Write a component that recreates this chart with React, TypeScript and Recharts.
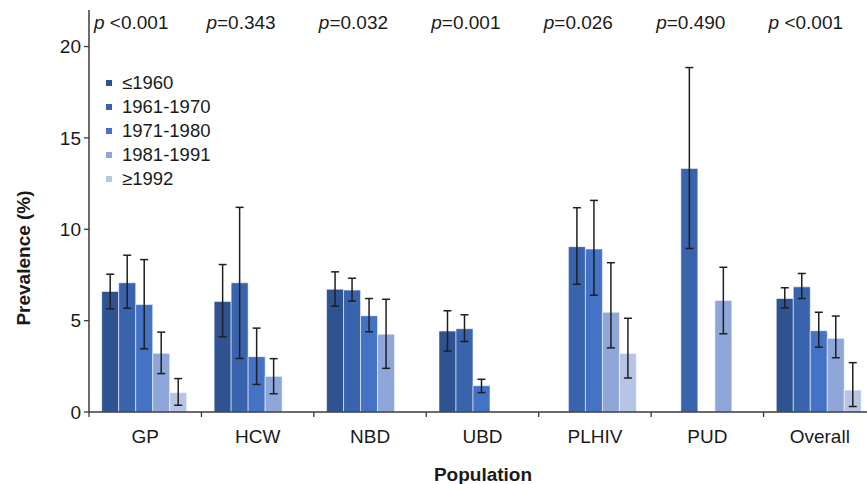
import React from 'react';
import { BarChart, Bar, XAxis, YAxis, ErrorBar, Legend } from 'recharts';

const categories = ['GP', 'HCW', 'NBD', 'UBD', 'PLHIV', 'PUD', 'Overall'];
const pValues = [' <0.001', '=0.343', '=0.032', '=0.001', '=0.026', '=0.490', ' <0.001'];
const seriesNames = ['≤1960', '1961-1970', '1971-1980', '1981-1991', '≥1992'];
const colors = ['#2F5291', '#3A63AD', '#4472C4', '#8FA6D8', '#B7C4E6'];
const yTicks = [0, 5, 10, 15, 20];

const v1960 = [6.6, 6.05, 6.72, 4.43, null, null, 6.21];
const lo1960 = [5.65, 4.12, 5.79, 3.33, null, null, 5.7];
const hi1960 = [7.54, 8.07, 7.67, 5.54, null, null, 6.8];

const v1961 = [7.07, 7.07, 6.67, 4.56, 9.05, 13.33, 6.85];
const lo1961 = [5.68, 2.93, 6.07, 3.86, 6.99, 8.95, 6.21];
const hi1961 = [8.58, 11.2, 7.32, 5.32, 11.18, 18.85, 7.58];

const v1971 = [5.88, 3.03, 5.27, 1.44, 8.92, null, 4.45];
const lo1971 = [3.46, 1.51, 4.39, 1.06, 6.39, null, 3.55];
const hi1971 = [8.34, 4.59, 6.21, 1.79, 11.58, null, 5.46];

const v1981 = [3.21, 1.95, 4.26, null, 5.46, 6.1, 4.03];
const lo1981 = [2.1, 1.0, 2.39, null, 3.51, 4.28, 2.97];
const hi1981 = [4.37, 2.92, 6.17, null, 8.17, 7.92, 5.25];

const v1992 = [1.06, null, null, null, 3.2, null, 1.2];
const lo1992 = [0.37, null, null, null, 1.86, null, 0.3];
const hi1992 = [1.83, null, null, null, 5.13, null, 2.7];

const seriesList = [
  { v: v1960, lo: lo1960, hi: hi1960 },
  { v: v1961, lo: lo1961, hi: hi1961 },
  { v: v1971, lo: lo1971, hi: hi1971 },
  { v: v1981, lo: lo1981, hi: hi1981 },
  { v: v1992, lo: lo1992, hi: hi1992 },
];

const data = categories.map((c, i) => {
  const row: any = { category: c };
  seriesList.forEach((s, k) => {
    const val = s.v[i];
    row['v' + k] = val;
    row['e' + k] = val == null ? undefined : [val - (s.lo[i] as number), (s.hi[i] as number) - val];
  });
  return row;
});

const FONT = '"Liberation Sans", Arial, Helvetica, sans-serif';
const TEXT = '#1a1a1a';
const AXIS = '#3a3a3a';

const BottomTick = (props: any) => {
  const { x, y, payload } = props;
  const half = payload && typeof payload.offset === 'number' && payload.offset > 0 ? payload.offset : 56.2;
  return (
    <g>
      <line x1={x - half} x2={x - half} y1={y - 5} y2={y} stroke={AXIS} strokeWidth={1.3} />
      <text x={x} y={y + 26} textAnchor="middle" fontSize={19} fontFamily={FONT} fill={TEXT}>
        {payload.value}
      </text>
    </g>
  );
};

const TopTick = (props: any) => {
  const { x, payload } = props;
  const half = payload && typeof payload.offset === 'number' && payload.offset > 0 ? payload.offset : 56.2;
  const idx = categories.indexOf(payload.value);
  return (
    <text x={x - half + 5} y={29} textAnchor="start" fontSize={19} fontFamily={FONT} fill={TEXT}>
      <tspan fontStyle="italic">p</tspan>
      <tspan>{pValues[idx]}</tspan>
    </text>
  );
};

const YTitle = () => (
  <text
    transform="translate(23,258) rotate(-90)"
    textAnchor="middle"
    dominantBaseline="central"
    fontSize={19}
    fontWeight="bold"
    fontFamily={FONT}
    fill={TEXT}
  >
    Prevalence (%)
  </text>
);

const XTitle = () => (
  <text x={483} y={481} textAnchor="middle" fontSize={19} fontWeight="bold" fontFamily={FONT} fill={TEXT}>
    Population
  </text>
);

const LegendContent = () => (
  <div style={{ fontFamily: FONT, fontSize: 18.5, color: TEXT }}>
    {seriesNames.map((n, k) => (
      <div key={n} style={{ display: 'flex', alignItems: 'center', height: 24 }}>
        <div style={{ width: 6, height: 6, background: colors[k], marginRight: 10 }} />
        <span style={{ lineHeight: '24px' }}>{n}</span>
      </div>
    ))}
  </div>
);

export default function App() {
  return (
    <div style={{ position: 'fixed', left: 0, top: 0, width: 867, height: 484, overflow: 'hidden', background: '#fff' }}>
      <BarChart
        width={880}
        height={484}
        data={data}
        margin={{ top: 10, right: 4, left: 0, bottom: 0 }}
        barCategoryGap="11.3%"
        barGap={0}
      >
        <XAxis
          dataKey="category"
          height={72}
          tickSize={5}
          tickMargin={0}
          tickLine={false}
          axisLine={{ stroke: AXIS, strokeWidth: 1.5 }}
          tick={<BottomTick />}
          interval={0}
          label={<XTitle />}
        />
        <XAxis
          xAxisId="top"
          dataKey="category"
          orientation="top"
          mirror
          axisLine={false}
          tickLine={false}
          tick={<TopTick />}
          interval={0}
        />
        <YAxis
          width={89}
          domain={[0, 22]}
          ticks={yTicks}
          interval={0}
          tickSize={5}
          tickMargin={3}
          axisLine={{ stroke: AXIS, strokeWidth: 1.5 }}
          tickLine={{ stroke: AXIS, strokeWidth: 1.3 }}
          tick={{ fontSize: 19, fontFamily: FONT, fill: TEXT }}
          label={<YTitle />}
        />
        <Legend
          layout="vertical"
          align="center"
          verticalAlign="middle"
          content={<LegendContent />}
          wrapperStyle={{ left: 106, top: 71, width: 140 }}
        />
        {seriesNames.map((n, k) => (
          <Bar
            key={n}
            dataKey={'v' + k}
            name={n}
            fill={colors[k]}
            stroke="rgba(255,255,255,0.55)"
            strokeWidth={1}
            isAnimationActive={false}
          >
            <ErrorBar dataKey={'e' + k} width={4} stroke="#1f1f1f" strokeWidth={1.5} direction="y" />
          </Bar>
        ))}
      </BarChart>
    </div>
  );
}
